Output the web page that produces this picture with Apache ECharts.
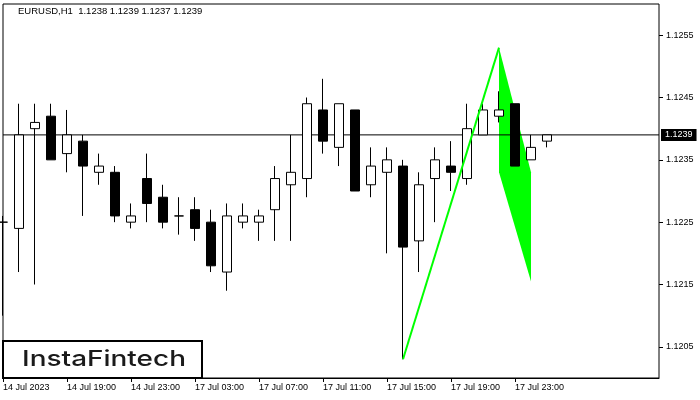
<!DOCTYPE html>
<html><head><meta charset="utf-8">
<script src="https://cdn.jsdelivr.net/npm/echarts@6/dist/echarts.min.js"></script>
<style>html,body{margin:0;padding:0;background:#fff}#c{width:700px;height:400px}</style>
</head><body><div id="c"></div>
<script>
const titleText = 'EURUSD,H1  1.1238 1.1239 1.1237 1.1239';
const categories = [
  '14 Jul 15:00','14 Jul 16:00','14 Jul 17:00','14 Jul 18:00','14 Jul 19:00','14 Jul 20:00','14 Jul 21:00','14 Jul 22:00','14 Jul 23:00',
  '17 Jul 00:00','17 Jul 01:00','17 Jul 02:00','17 Jul 03:00','17 Jul 04:00','17 Jul 05:00','17 Jul 06:00','17 Jul 07:00','17 Jul 08:00',
  '17 Jul 09:00','17 Jul 10:00','17 Jul 11:00','17 Jul 12:00','17 Jul 13:00','17 Jul 14:00','17 Jul 15:00','17 Jul 16:00','17 Jul 17:00',
  '17 Jul 18:00','17 Jul 19:00','17 Jul 20:00','17 Jul 21:00','17 Jul 22:00','17 Jul 23:00','18 Jul 00:00','18 Jul 01:00',
  '18 Jul 02:00','18 Jul 03:00','18 Jul 04:00','18 Jul 05:00','18 Jul 06:00','18 Jul 07:00','18 Jul 08:00'
];
const tickLabels = ['14 Jul 2023','14 Jul 19:00','14 Jul 23:00','17 Jul 03:00','17 Jul 07:00','17 Jul 11:00','17 Jul 15:00','17 Jul 19:00','17 Jul 23:00'];
const opens  = [1.1225,1.1224,1.1240,1.1242,1.1236,1.1238,1.1233,1.1233,1.1225,1.1232,1.1229,1.1226,1.1227,1.1225,1.1217,1.1225,1.1225,1.1227,1.1231,1.1232,1.1243,1.1237,1.1243,1.1231,1.1233,1.1234,1.1222,1.1232,1.1234,1.1232,1.1239,1.1242,1.1244,1.1235,1.1238];
const highs  = [1.1226,1.1244,1.1244,1.1244,1.1243,1.1239,1.1236,1.1234,1.1228,1.1236,1.1231,1.1229,1.1229,1.1227,1.1228,1.1228,1.1227,1.1234,1.1239,1.1245,1.1248,1.1244,1.1243,1.1237,1.1237,1.1235,1.1233,1.1237,1.1238,1.1244,1.1244,1.1246,1.1244,1.1239,1.1239];
const lows   = [1.1210,1.1217,1.1215,1.1235,1.1233,1.1226,1.1231,1.1225,1.1224,1.1225,1.1224,1.1223,1.1222,1.1217,1.1214,1.1224,1.1222,1.1222,1.1222,1.1229,1.1236,1.1234,1.1230,1.1229,1.1220,1.1203,1.1217,1.1225,1.1230,1.1231,1.1239,1.1241,1.1234,1.1235,1.1237];
const closes = [1.1225,1.1239,1.1241,1.1235,1.1239,1.1234,1.1234,1.1226,1.1226,1.1228,1.1225,1.1226,1.1224,1.1218,1.1226,1.1226,1.1226,1.1232,1.1233,1.1244,1.1238,1.1244,1.1230,1.1234,1.1235,1.1221,1.1231,1.1235,1.1233,1.1240,1.1243,1.1243,1.1234,1.1237,1.1239];
const yTicks = [1.1205,1.1215,1.1225,1.1235,1.1245,1.1255];
const yMin = 1.1200, yMax = 1.1260;
const currentPrice = 1.1239;
const poleX = [25, 31];
const poleY = [1.1203, 1.1253];
const flagX = [31, 33, 33, 31];
const flagY = [1.1253, 1.1233, 1.12155, 1.1233];
const logoText = 'InstaFintech';

const FONT = 'Liberation Sans';
const candleData = opens.map((o,i)=>[o, closes[i], lows[i], highs[i]]);
const lastIdx = categories.length - 1;
const showTick = (i) => i % 4 === 0 && i / 4 < tickLabels.length;

const chart = echarts.init(document.getElementById('c'));
chart.setOption({
  animation: false,
  backgroundColor: '#fff',
  title: {text: titleText, left: 18, top: 6, padding: 0,
    textStyle: {fontSize: 9.5, fontWeight: 'normal', color: '#000', fontFamily: FONT}},
  grid: {left: 3, right: 41, top: 4, bottom: 22, show: true, borderColor: '#000', borderWidth: 1, backgroundColor: '#fff'},
  xAxis: {type: 'category', data: categories, boundaryGap: false,
    axisLine: {show: true, lineStyle: {color: '#000', width: 1}},
    axisTick: {show: true, interval: (i) => showTick(i), length: 4, lineStyle: {color: '#000'}},
    axisLabel: {interval: (i) => showTick(i), formatter: (v, i) => showTick(i) ? tickLabels[i/4] : '',
      align: 'left', margin: 5, fontSize: 9, color: '#000', fontFamily: FONT},
    splitLine: {show: false}},
  yAxis: {type: 'value', position: 'right', min: yMin, max: yMax, scale: true,
    axisLine: {show: false},
    axisTick: {show: true, length: 4, lineStyle: {color: '#000'}, customValues: yTicks},
    axisLabel: {customValues: yTicks, formatter: (v) => v.toFixed(4), margin: 7, fontSize: 9, color: '#000', fontFamily: FONT},
    splitLine: {show: false}},
  graphic: [
    {type: 'rect', shape: {x: 3, y: 341, width: 199, height: 37}, style: {fill: '#fff', stroke: '#000', lineWidth: 2}, z: 100},
    {type: 'text', x: 104, y: 359, scaleX: 1.27, style: {text: logoText, font: '500 22px Inter', fill: '#1a1a1a', textAlign: 'center', textVerticalAlign: 'middle'}, z: 101}
  ],
  series: [
    {type: 'custom', z: 1, data: [[flagX[0], flagY[0]]], clip: true,
      renderItem: (params, api) => ({type: 'polygon',
        shape: {points: flagX.map((x, i) => api.coord([x, flagY[i]]))},
        style: {fill: '#00ff00', stroke: null}})},
    {type: 'line', z: 2, data: [[0, currentPrice], [lastIdx, currentPrice]], showSymbol: false, silent: true,
      lineStyle: {color: '#000', width: 1},
      endLabel: {show: true, formatter: () => currentPrice.toFixed(4), color: '#fff', backgroundColor: '#000',
        padding: [2, 4, 1, 4], distance: 2, fontSize: 9, fontFamily: FONT}},
    {type: 'candlestick', z: 3, data: candleData, barWidth: 10, clip: true,
      itemStyle: {color: '#fff', color0: '#000', borderColor: '#000', borderColor0: '#000', borderColorDoji: '#000', borderWidth: 1}},
    {type: 'line', z: 4, data: poleX.map((x, i) => [x, poleY[i]]), showSymbol: false, silent: true,
      lineStyle: {color: '#00ff00', width: 2}}
  ]
});
</script></body></html>
